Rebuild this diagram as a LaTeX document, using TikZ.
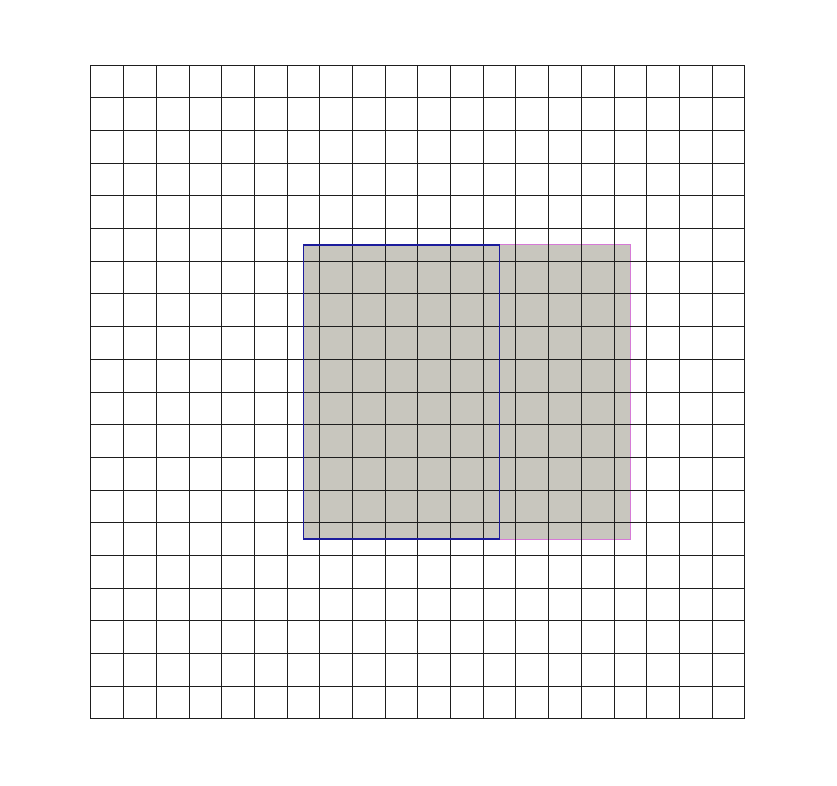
\documentclass[tikz,border=0pt]{standalone}
\usepackage{tikz}
\usetikzlibrary{calc,positioning}
\definecolor{PatchFill}{HTML}{C8C6BE}
\definecolor{GridLine}{HTML}{1E1E1E}
\definecolor{PatchBlue}{HTML}{1C1C9C}
\definecolor{PatchPink}{HTML}{D67AD6}

\begin{document}
\begin{tikzpicture}[x=0.5cm,y=0.5cm]
      % page frame
      \useasboundingbox (-2.78,-2.02) rectangle (22.82,21.99);
      % shaded patches
      \fill[PatchFill] (6.5,5.5) rectangle (16.5,14.5);
      \draw[PatchPink, line width=0.5pt] (6.5,5.5) rectangle (16.5,14.5);
      % mesh
      \foreach \k in {0,...,20} {
        \draw[GridLine, line width=0.42pt] (\k,0) -- (\k,20);
        \draw[GridLine, line width=0.42pt] (0,\k) -- (20,\k);
      }
      \draw[PatchBlue, line width=0.75pt] (6.5,5.5) rectangle (12.5,14.5);
    \end{tikzpicture}
\end{document}
